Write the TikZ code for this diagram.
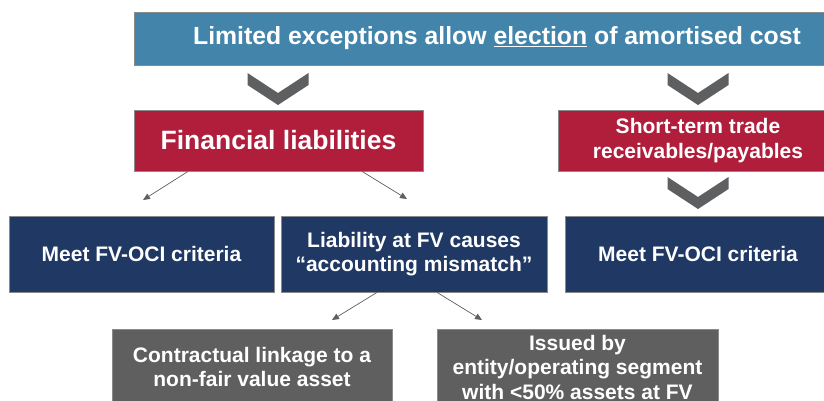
\documentclass[tikz,border=0pt]{standalone}
\usepackage{fontspec}
\setmainfont{Liberation Sans}
\usetikzlibrary{arrows.meta}
\definecolor{topblue}{HTML}{4384AA}
\definecolor{liabred}{HTML}{B01E3C}
\definecolor{fvnavy}{HTML}{1F3864}
\definecolor{boxgrey}{HTML}{5F5F5F}
\definecolor{chevgrey}{HTML}{5E5F61}
\definecolor{edgegrey}{HTML}{8A8A8A}

\begin{document}
\begin{tikzpicture}[x=1pt,y=-1pt]
	\tikzstyle{box}=[rectangle,draw=edgegrey,line width=0.8pt,text=white,align=center,inner sep=0pt,font=\bfseries\fontsize{21}{24.5}\selectfont]
	\tikzstyle{bluebox}=[box,fill=topblue,minimum width=726pt,minimum height=53pt,font=\bfseries\fontsize{24.8}{28}\selectfont]
	\tikzstyle{redbox}=[box,fill=liabred,minimum width=280pt,minimum height=61pt]
	\tikzstyle{navybox}=[box,fill=fvnavy,minimum width=266pt,minimum height=76pt]
	\tikzstyle{greybox}=[box,fill=boxgrey,minimum width=281pt,minimum height=76pt]
	\tikzstyle{arr}=[draw=chevgrey,line width=0.7pt,-{Triangle[length=7pt,width=6pt]}]
	\tikzset{chevron/.pic={\fill[chevgrey] (-30.5,0) -- (0,20) -- (30.5,0) -- (30.5,12) -- (0,32) -- (-30.5,12) -- cycle;}}
	\useasboundingbox (0,0) rectangle (824,401);
	\fill[white] (0,0) rectangle (824,401);
	\clip (0,0) rectangle (824,401);
	% top row
	\node[bluebox] (top) at (497,38.5){Limited exceptions allow \underline{election} of amortised cost};
	\pic at (278,73) {chevron};
	\pic at (698,73) {chevron};
	% red row
	\node[redbox,minimum width=289pt,font=\bfseries\fontsize{26.5}{30}\selectfont] (finl) at (278.5,140.5){Financial liabilities};
	\node[redbox] (trade) at (698,140.5){Short-term trade\\receivables/payables};
	\pic at (698,177) {chevron};
	% navy row
	\node[navybox,minimum width=265pt] (ocia) at (141.5,254){Meet FV-OCI criteria};
	\node[navybox] (mism) at (414,254){Liability at FV causes\\“accounting mismatch”};
	\node[navybox] (ocib) at (698,254){Meet FV-OCI criteria};
	% grey row
	\node[greybox,minimum width=280pt] (link) at (252,367){Contractual linkage to a\\non-fair value asset};
	\node[greybox] (segm) at (577.5,367){Issued by\\entity/operating segment\\with \textless50\% assets at FV};
	% arrows
	\coordinate (tipa) at (143,200);
	\coordinate (tipb) at (407,199);
	\coordinate (tipc) at (332,320);
	\coordinate (tipd) at (482,320);
	\draw[arr] ([xshift=-90.5]finl.south) -- (tipa);
	\draw[arr] ([xshift=83.5]finl.south) -- (tipb);
	\draw[arr] ([xshift=-37]mism.south) -- (tipc);
	\draw[arr] ([xshift=23]mism.south) -- (tipd);
\end{tikzpicture}
\end{document}
